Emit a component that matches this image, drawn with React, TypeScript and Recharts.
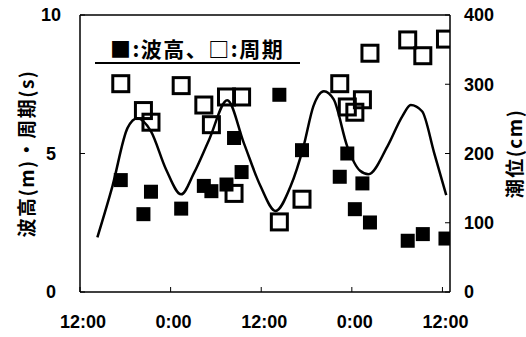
import { ComposedChart, XAxis, YAxis, Line, Scatter, ReferenceLine } from "recharts";

// hours counted from the first 12:00 on the axis
const obsHours = [5.4, 8.4, 9.4, 13.4, 16.4, 17.4, 19.4, 20.4, 21.4, 26.4, 29.4, 34.4, 35.4, 36.4, 37.4, 38.4, 43.4, 45.4, 48.4];
const waveHeight = [4.04, 2.81, 3.62, 3.01, 3.83, 3.64, 3.88, 5.56, 4.33, 7.12, 5.12, 4.16, 5.0, 2.99, 3.92, 2.51, 1.85, 2.09, 1.93];
const wavePeriod = [7.52, 6.55, 6.13, 7.45, 6.75, 6.04, 7.04, 3.56, 7.04, 2.53, 3.35, 7.52, 6.68, 6.49, 6.94, 8.62, 9.1, 8.53, 9.13];

const tideHours = [2.3, 4.3, 6.3, 7.6, 9.4, 11.4, 13.4, 15.1, 17.1, 19.5, 21.7, 23.9, 25.9, 27.9, 29.6, 30.9, 32.3, 33.6, 35.4, 37.1, 38.2, 40.7, 42.7, 43.8, 45.3, 46.9, 48.5];
const tideLevel = [79, 153, 237, 251, 232, 177, 141, 172, 220, 277, 215, 153, 117, 153, 210, 268, 290, 278, 210, 175, 170, 210, 254, 270, 261, 201, 140];

const xTicks = [0, 12, 24, 36, 48];
const xTickLabels = ["12:00", "0:00", "12:00", "0:00", "12:00"];

const heightData = obsHours.map((t, i) => ({ t, v: waveHeight[i] }));
const periodData = obsHours.map((t, i) => ({ t, v: wavePeriod[i] }));
const tideData = tideHours.map((t, i) => ({ t, cm: tideLevel[i] }));

const tickFont = { fontFamily: '"Liberation Sans", Arial, sans-serif', fontSize: 18, fontWeight: 700, fill: "#000" };
const labelFont = { fontFamily: '"Noto Sans CJK JP", sans-serif', fontSize: 19, fontWeight: 700, fill: "#000", letterSpacing: 1.5 };

const FilledSquare = (props: any) => (
  <rect x={props.cx - 7} y={props.cy - 7} width={14} height={14} fill="#000" />
);
const OpenSquare = (props: any) => (
  <rect x={props.cx - 8} y={props.cy - 8} width={16} height={16} fill="none" stroke="#000" strokeWidth={3} />
);

export default function App() {
  return (
    <div style={{ position: "absolute", left: 0, top: 0, width: 526, height: 337, background: "#fff" }}>
      <ComposedChart width={526} height={337} margin={{ top: 15, right: 0, left: 0, bottom: 0 }}>
        <XAxis
          dataKey="t"
          type="number"
          domain={[0, 49]}
          ticks={xTicks}
          tickFormatter={(v: number) => xTickLabels[xTicks.indexOf(v)]}
          height={45}
          tickSize={-5}
          tickMargin={28}
          tick={{ ...tickFont, dx: 3 }}
          axisLine={{ stroke: "#000", strokeWidth: 1.5 }}
          tickLine={{ stroke: "#000" }}
          allowDataOverflow
        />
        <YAxis
          yAxisId="h"
          orientation="left"
          domain={[0, 10]}
          ticks={[0, 5, 10]}
          width={80}
          tickSize={-5}
          tickMargin={34}
          tick={{ ...tickFont, textAnchor: "middle" }}
          axisLine={{ stroke: "#000", strokeWidth: 1.5 }}
          tickLine={{ stroke: "#000" }}
          label={{ value: "波高(m)・周期(s)", angle: -90, position: "center", dx: -13, style: labelFont }}
        />
        <YAxis
          yAxisId="tide"
          orientation="right"
          domain={[0, 400]}
          ticks={[0, 100, 200, 300, 400]}
          width={76}
          tickSize={-5}
          tickMargin={19}
          tick={tickFont}
          axisLine={{ stroke: "#000", strokeWidth: 1.5 }}
          tickLine={{ stroke: "#000" }}
          label={{ value: "潮位(cm)", angle: -90, position: "center", dx: 27, style: labelFont }}
        />
        <ReferenceLine yAxisId="h" y={10} stroke="#000" strokeWidth={1.5} />
        <Line
          yAxisId="tide"
          data={tideData}
          dataKey="cm"
          type="monotone"
          stroke="#000"
          strokeWidth={2.5}
          dot={false}
          isAnimationActive={false}
        />
        <Scatter yAxisId="h" data={periodData} dataKey="v" shape={OpenSquare} isAnimationActive={false} />
        <Scatter yAxisId="h" data={heightData} dataKey="v" shape={FilledSquare} isAnimationActive={false} />
      </ComposedChart>
      <div
        style={{
          position: "absolute",
          left: 110,
          top: 35,
          fontFamily: '"Noto Sans CJK JP", sans-serif',
          fontSize: 21,
          fontWeight: 700,
          letterSpacing: 1.5,
          lineHeight: "26px",
          whiteSpace: "nowrap",
          color: "#000",
        }}
      >
        ■:波高、□:周期
      </div>
      <div style={{ position: "absolute", left: 95, top: 62, width: 205, height: 2, background: "#000" }} />
    </div>
  );
}
